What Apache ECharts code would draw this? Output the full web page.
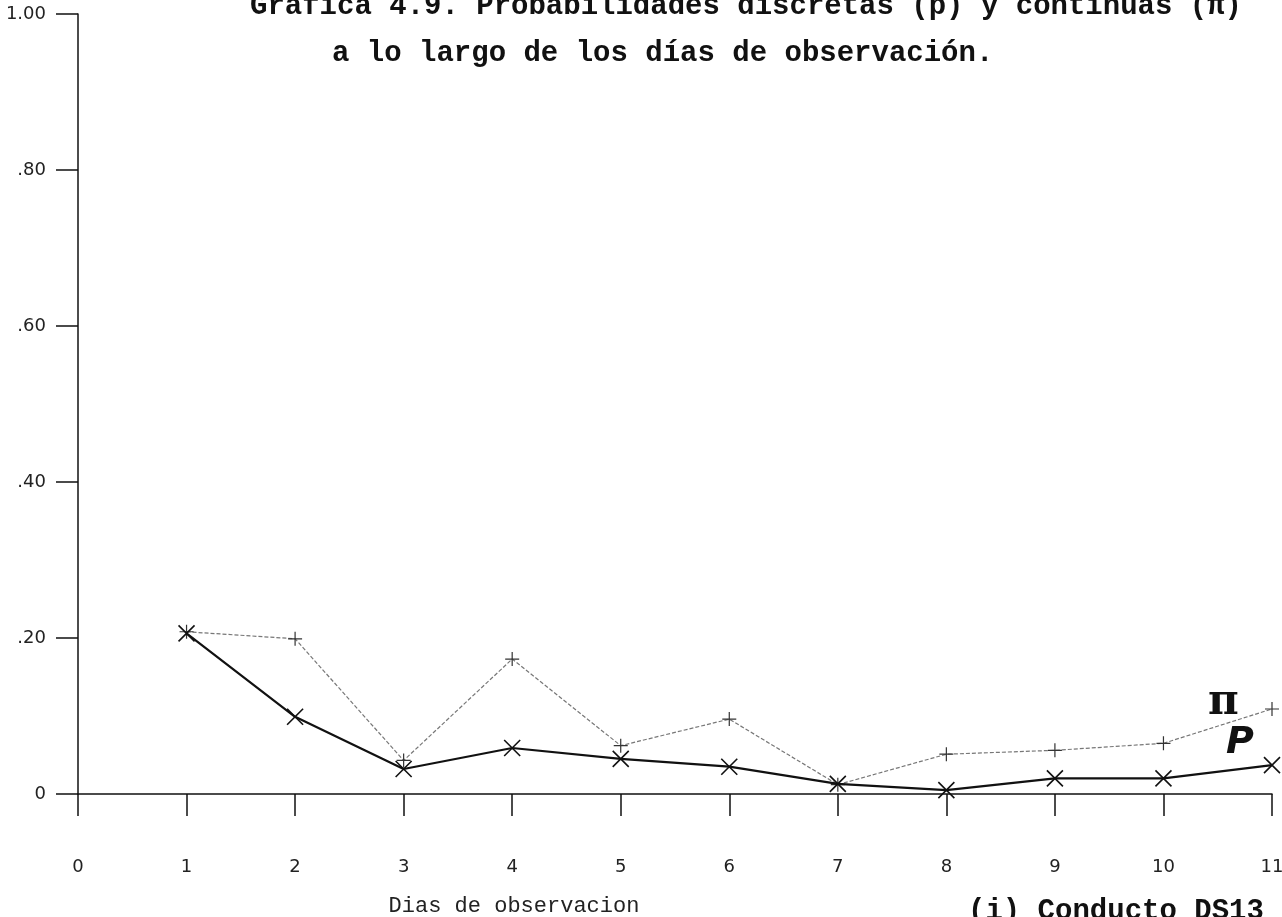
<!DOCTYPE html>
<html>
<head>
<meta charset="utf-8">
<script src="https://cdn.jsdelivr.net/npm/echarts@6/dist/echarts.min.js"></script>
<style>
  html, body { margin: 0; padding: 0; background: #fff; }
  #chart { width: 1282px; height: 917px; }
</style>
</head>
<body>
<div id="chart"></div>
<script>
// días de observación
const days = [1, 2, 3, 4, 5, 6, 7, 8, 9, 10, 11];
// probabilidades discretas (p)
const pValues = [0.206, 0.099, 0.032, 0.059, 0.045, 0.035, 0.013, 0.005, 0.02, 0.02, 0.037];
// probabilidades continuas (pi)
const piValues = [0.208, 0.199, 0.043, 0.173, 0.062, 0.096, 0.012, 0.051, 0.056, 0.065, 0.109];
const yTickLabels = { 0: "0", 0.2: ".20", 0.4: ".40", 0.6: ".60", 0.8: ".80", 1: "1.00" };

const crossX = "path://M0,0L10,10M10,0L0,10";
const crossPlus = "path://M5,0L5,10M0,5L10,5";

const chart = echarts.init(document.getElementById("chart"));

chart.setOption({
  animation: false,
  grid: { left: 78, right: 10, top: 14, bottom: 123, containLabel: false, outerBoundsMode: "none" },
  xAxis: {
    type: "value",
    min: 0,
    max: 11,
    interval: 1,
    name: "Dias de observacion",
    nameLocation: "middle",
    nameGap: 101,
    nameTextStyle: {
      fontFamily: "Liberation Mono",
      fontSize: 22,
      color: "#222",
      padding: [0, 322, 0, 0],
    },
    axisLine: { lineStyle: { color: "#111", width: 1.5 } },
    axisTick: { inside: false, length: 22, lineStyle: { color: "#111", width: 1.5 } },
    axisLabel: { margin: 64, fontFamily: "DejaVu Sans", fontSize: 18, color: "#222" },
    splitLine: { show: false },
  },
  yAxis: {
    type: "value",
    min: 0,
    max: 1,
    interval: 0.2,
    axisLine: { show: true, lineStyle: { color: "#111", width: 1.5 } },
    axisTick: { show: true, length: 22, lineStyle: { color: "#111", width: 1.5 } },
    axisLabel: {
      margin: 32,
      fontFamily: "DejaVu Sans",
      fontSize: 18,
      color: "#222",
      formatter: (v) => yTickLabels[Math.round(v * 10) / 10] ?? "",
    },
    splitLine: { show: false },
  },
  series: [
    {
      name: "π",
      type: "line",
      data: days.map((d, i) => [d, piValues[i]]),
      symbol: crossPlus,
      symbolSize: 14,
      lineStyle: { color: "#777", width: 1.2, type: [4, 2] },
      itemStyle: { color: "transparent", borderColor: "#333", borderWidth: 1.2 },
      z: 2,
    },
    {
      name: "p",
      type: "line",
      data: days.map((d, i) => [d, pValues[i]]),
      symbol: crossX,
      symbolSize: 16,
      lineStyle: { color: "#111", width: 2.2 },
      itemStyle: { color: "transparent", borderColor: "#111", borderWidth: 1.6 },
      z: 3,
    },
  ],
  graphic: [
    {
      type: "text",
      left: 250,
      top: -8,
      style: {
        text: "Gráfica 4.9. Probabilidades discretas (p) y continuas (π)",
        font: "bold 29px 'Liberation Mono'",
        fill: "#111",
      },
    },
    {
      type: "text",
      left: 332,
      top: 39,
      style: {
        text: "a lo largo de los días de observación.",
        font: "bold 29px 'Liberation Mono'",
        fill: "#111",
      },
    },
    {
      type: "text",
      left: 968,
      top: 897,
      style: {
        text: "(i) Conducto DS13",
        font: "bold 29px 'Liberation Mono'",
        fill: "#111",
      },
    },
    {
      type: "text",
      left: 1208,
      top: 682,
      style: { text: "π", font: "bold 42px 'DejaVu Serif'", fill: "#111" },
    },
    {
      type: "text",
      left: 1226,
      top: 724,
      style: { text: "P", font: "italic bold 38px 'DejaVu Sans'", fill: "#111" },
    },
  ],
});

window.addEventListener("resize", () => chart && chart.resize());
</script>
</body>
</html>
